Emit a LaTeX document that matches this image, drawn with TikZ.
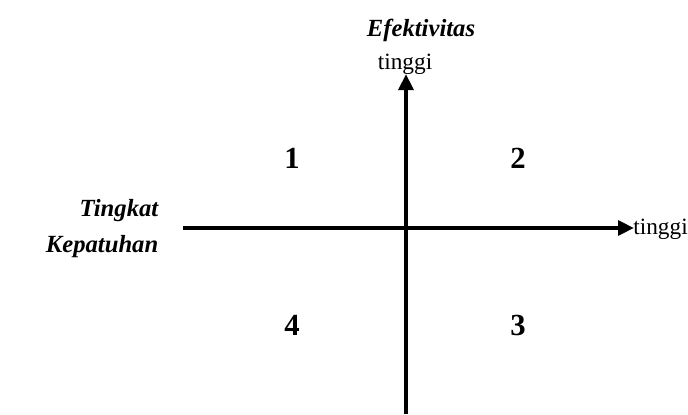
\documentclass[tikz,border=0pt]{standalone}
\usepackage{fontspec}
\setmainfont{Liberation Serif}
\usepackage{tikz}
\usetikzlibrary{arrows.meta}

\begin{document}
\begin{tikzpicture}[x=0.75pt,y=-0.75pt,
  axis/.style={line width=3pt, -{Triangle[length=12pt,width=11pt]}},
  quad/.style={font=\fontsize{23}{26}\selectfont\bfseries},
  lbl/.style={font=\fontsize{18.5}{27}\selectfont\bfseries\itshape},
  tinggi/.style={font=\fontsize{17.5}{20}\selectfont, inner sep=0pt}]
\useasboundingbox (0,0) rectangle (688,414);

\coordinate (xs) at (183,228);
\coordinate (xe) at (634,228);
\coordinate (ys) at (406,414);
\coordinate (ye) at (406,74);
\draw[axis] (xs) -- (xe);
\draw[axis] (ys) -- (ye);

\node[tinggi, anchor=west] (xhigh) at (633,229) {tinggi};
\node[tinggi, anchor=south] (yhigh) at (405,75) {tinggi};
\node[lbl, anchor=south] (ylbl) at (421,46) {Efektivitas};
\node[lbl, align=right, anchor=east] (xlbl) at (163,229) {Tingkat\\Kepatuhan};

\node[quad] (q1) at (292,158) {1};
\node[quad] (q2) at (518,158) {2};
\node[quad] (q3) at (518,325) {3};
\node[quad] (q4) at (292,325) {4};
\end{tikzpicture}
\end{document}
